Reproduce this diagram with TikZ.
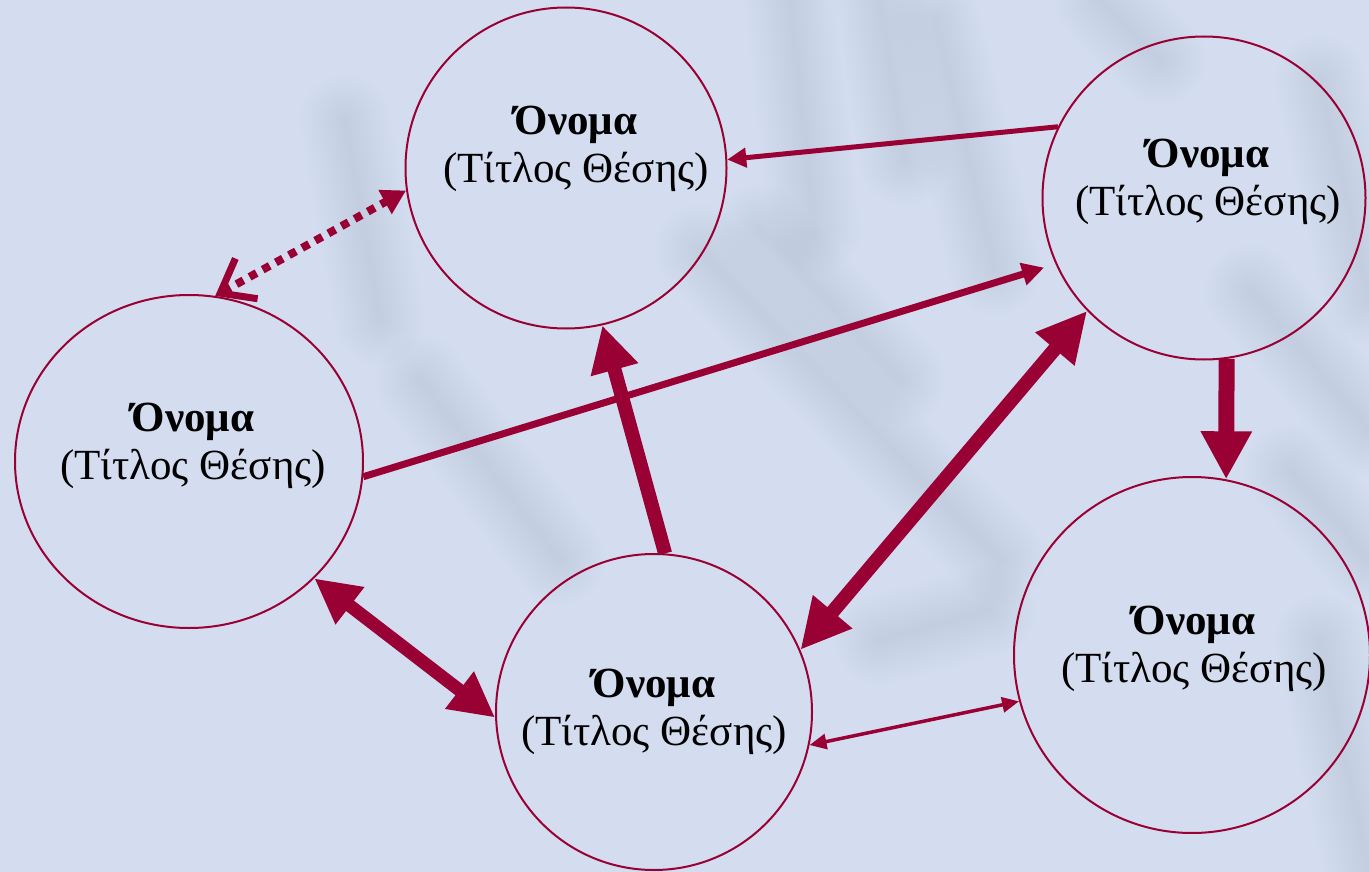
\documentclass[tikz,border=0pt]{standalone}
\usepackage{fontspec}
\setmainfont{Liberation Serif}
\usetikzlibrary{arrows.meta,shapes.geometric}

\definecolor{crimson}{HTML}{990033}
\definecolor{paper}{HTML}{D3DDEF}
\definecolor{twigblue}{HTML}{7D9BC8}

% soft, blurred background strokes built from many faint layers
\newcommand\softstroke[2]{%
  \foreach \w in {6,12,...,90}{%
    \draw[twigblue, line width=\w pt, draw opacity=0.013, line cap=round] #1 -- #2;}}

\tikzset{
  person/.style={circle, draw=crimson, line width=2pt, inner sep=0pt},
  lbl/.style={align=center, font=\fontsize{43}{48}\selectfont, text=black, inner sep=0pt},
  link/.style={draw=crimson, line cap=butt},
}

\begin{document}
\begin{tikzpicture}[x=1pt, y=-1pt]
  \useasboundingbox (0,0) rectangle (1369,872);
  \fill[paper] (0,0) rectangle (1369,872);

  % blurred branches behind the chart
  \softstroke{(345,120)}{(380,320)}
  \softstroke{(790,0)}{(815,230)}
  \softstroke{(880,0)}{(905,160)}
  \softstroke{(935,20)}{(995,270)}
  \softstroke{(700,250)}{(1000,560)}
  \softstroke{(760,230)}{(900,380)}
  \softstroke{(1250,290)}{(1369,430)}
  \softstroke{(1320,80)}{(1369,300)}
  \softstroke{(1290,470)}{(1369,560)}
  \softstroke{(1320,640)}{(1369,870)}
  \softstroke{(420,380)}{(560,560)}
  \softstroke{(880,640)}{(990,610)}
  \softstroke{(1100,0)}{(1160,60)}

  % people
  \node[person, minimum size=321pt] (A) at (566,168) {};
  \node[person, minimum size=323pt] (B) at (1204,198) {};
  \node[ellipse, draw=crimson, line width=2pt, inner sep=0pt,
        minimum width=348pt, minimum height=333pt] (C) at (189,461.5) {};
  \node[person, minimum size=316pt] (D) at (654,712) {};
  \node[person, minimum size=356pt] (E) at (1192,655) {};

  \node[lbl] (tA) at (576,149) {\textbf{Όνομα}\\(Τίτλος Θέσης)};
  \node[lbl] (tB) at (1208,182) {\textbf{Όνομα}\\(Τίτλος Θέσης)};
  \node[lbl] (tC) at (193,446) {\textbf{Όνομα}\\(Τίτλος Θέσης)};
  \node[lbl] (tD) at (654,712) {\textbf{Όνομα}\\(Τίτλος Θέσης)};
  \node[lbl] (tE) at (1194,649) {\textbf{Όνομα}\\(Τίτλος Θέσης)};

  % relations
  \draw[link, line width=5pt, -{Triangle[length=19pt,width=19pt]}]
    (B.154.7) -- (A.3.2);
  \draw[link, line width=8pt, dash pattern=on 8pt off 7pt,
        {Straight Barb[length=30pt,width=46pt,line width=7pt]}-{Triangle[length=24pt,width=26pt]}]
    (C.81.8) -- (A.188.2);
  \draw[link, line width=7pt, -{Triangle[length=22pt,width=22pt]}, shorten >=12pt]
    (C.-5) -- (B.204);
  \draw[link, line width=14pt, -{Triangle[length=46pt,width=46pt]}]
    (D.86.8) -- (A.-77);
  \draw[link, line width=14pt, {Triangle[length=50pt,width=48pt]}-{Triangle[length=50pt,width=48pt]}]
    (D.23.9) -- (B.224.5);
  \draw[link, line width=16pt, -{Triangle[length=48pt,width=48pt]}]
    (B.-82.8) -- (E.79.8);
  \draw[link, line width=13pt, {Triangle[length=45pt,width=44pt]}-{Triangle[length=45pt,width=44pt]}]
    (C.-43.6) -- (D.182.2);
  \draw[link, line width=3.5pt, {Triangle[length=17pt,width=15pt]}-{Triangle[length=17pt,width=15pt]}]
    (D.-12.6) -- (E.195);
\end{tikzpicture}
\end{document}
